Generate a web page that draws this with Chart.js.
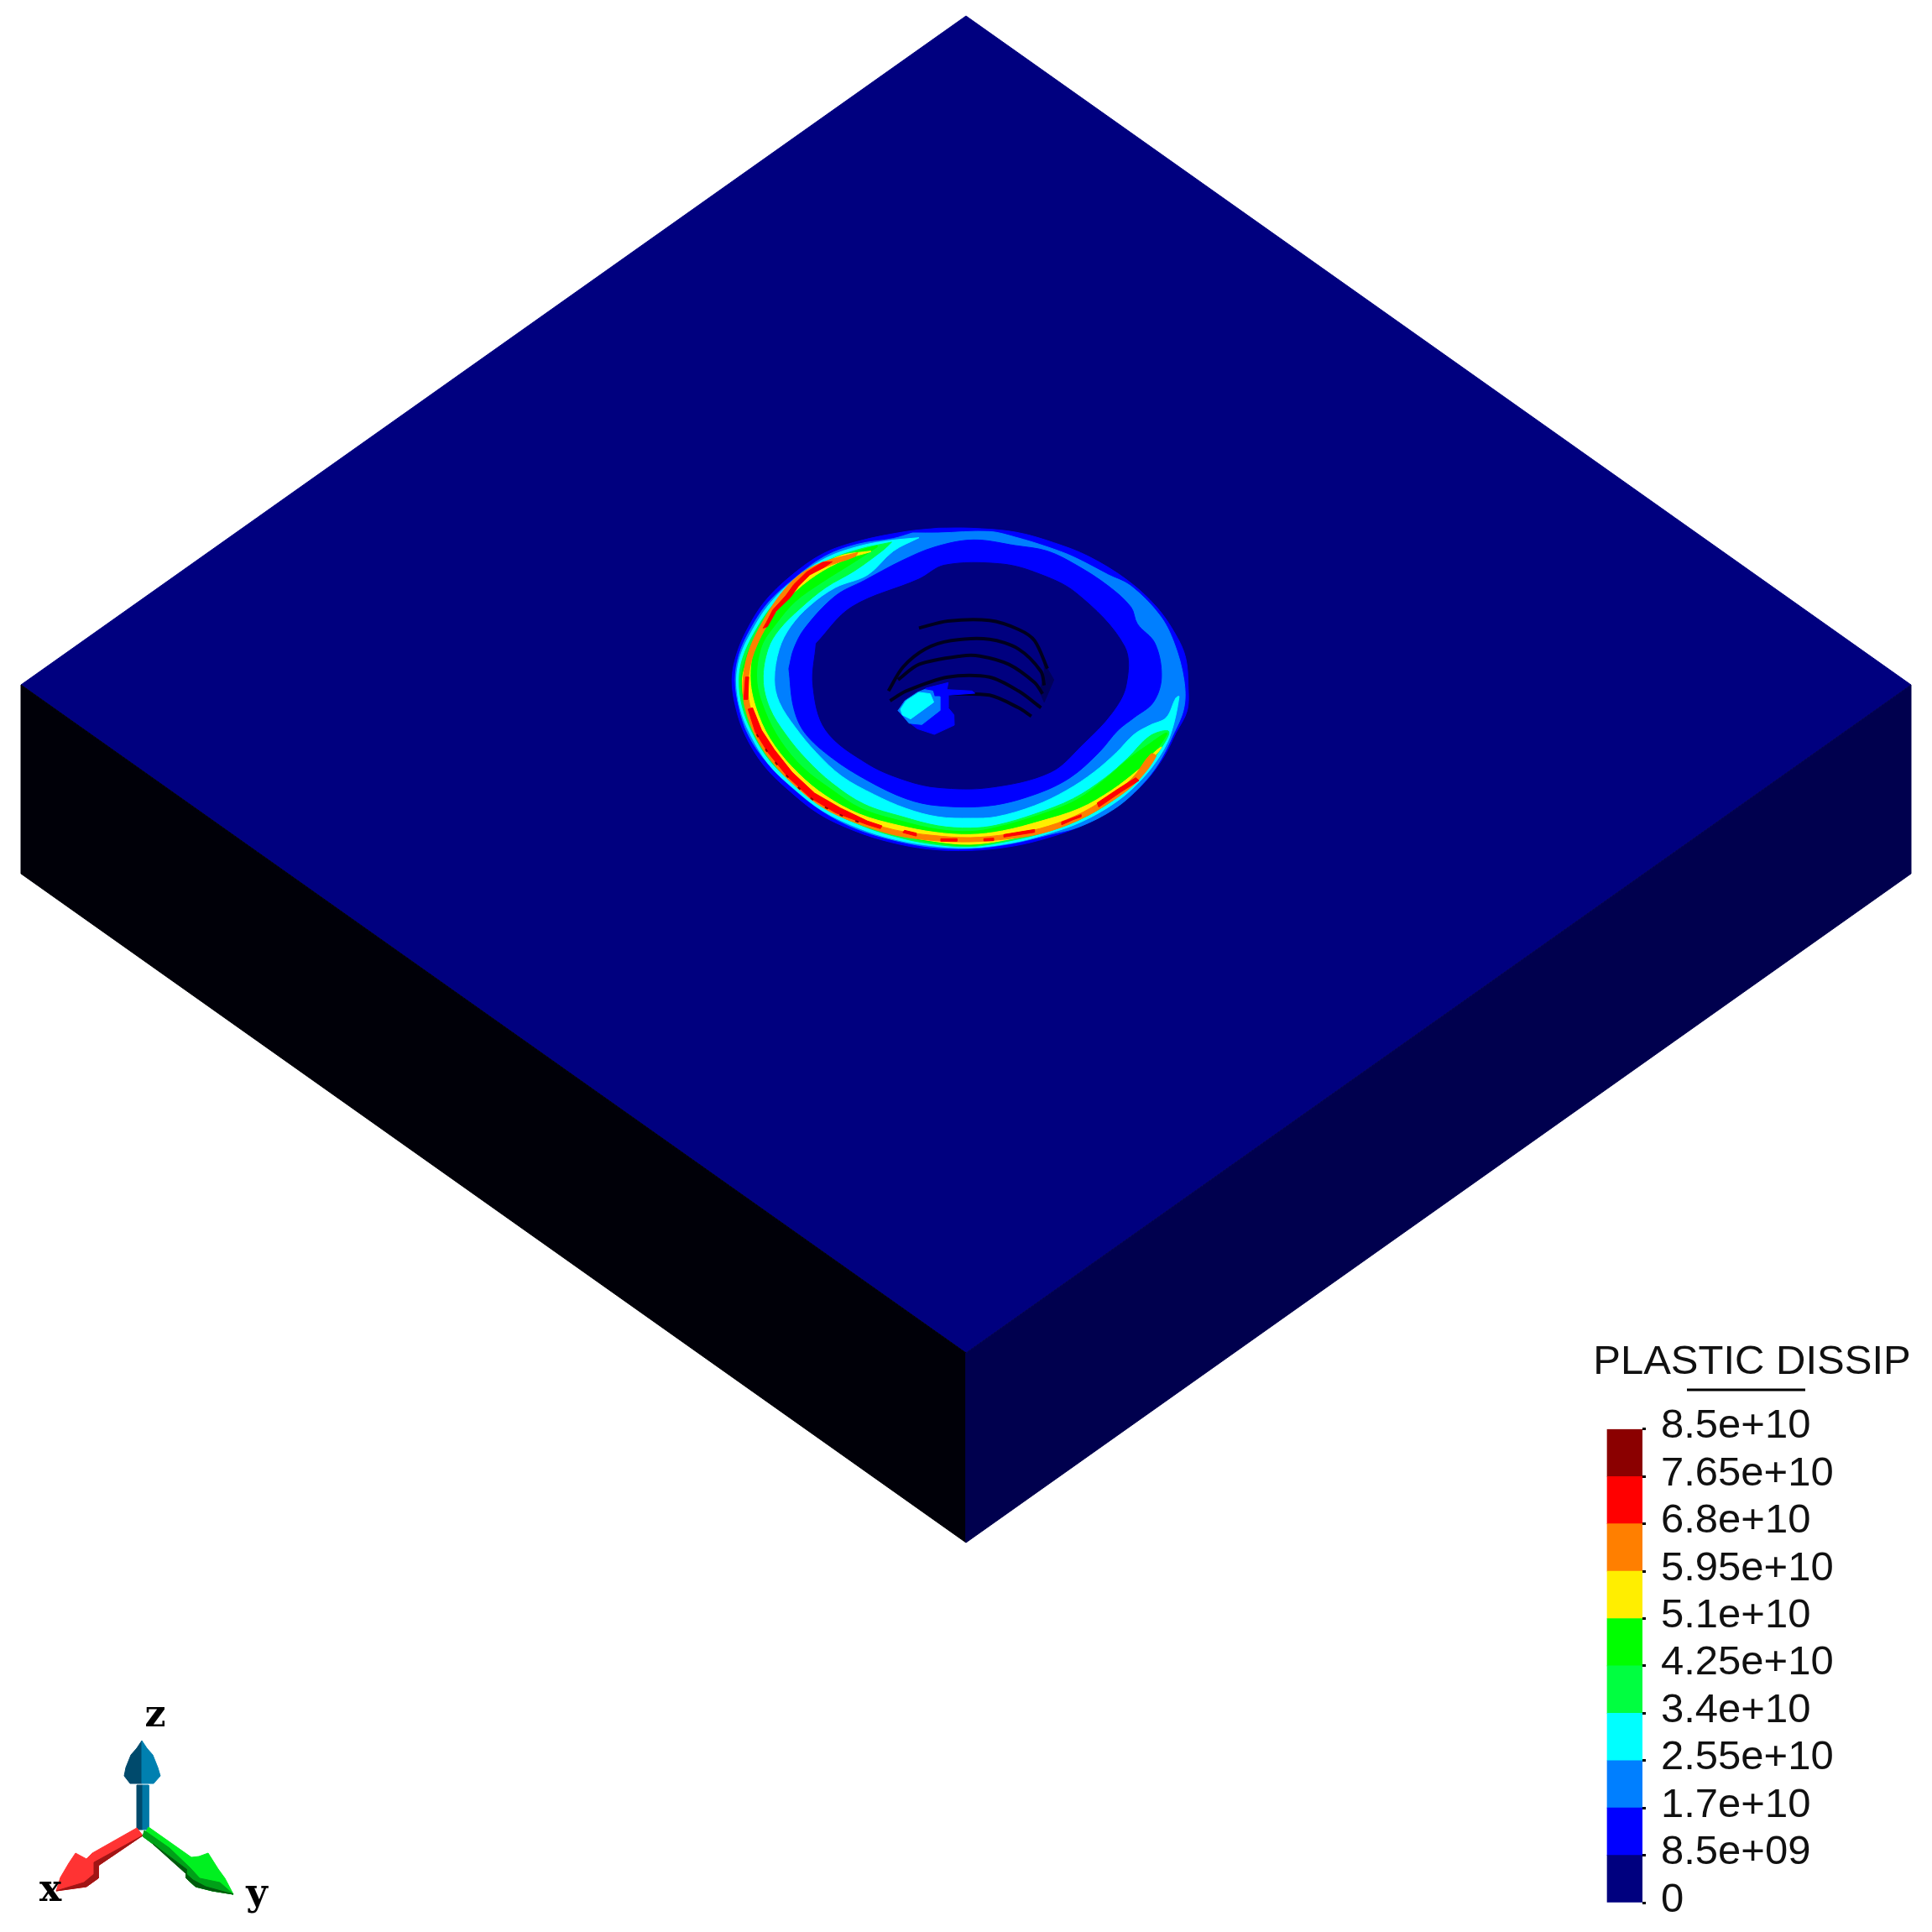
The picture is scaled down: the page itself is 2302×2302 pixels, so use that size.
<!DOCTYPE html>
<html lang="en">
<head>
<meta charset="UTF-8">
<title>PLASTIC DISSIP</title>
<script src="https://cdn.jsdelivr.net/npm/chart.js"></script>
<style>
  body { margin: 0; background: #fff; }
  canvas { position: absolute; }
</style>
</head>
<body>
<canvas id="plate" width="2302" height="2302" style="left:0;top:0"></canvas>
<canvas id="bar" width="452" height="722" style="left:1850px;top:1580px"></canvas>
<script>
// colour bar
const levels = [0, 8.5e9, 1.7e10, 2.55e10, 3.4e10, 4.25e10, 5.1e10, 5.95e10, 6.8e10, 7.65e10, 8.5e10];
const levelLabels = ['0', '8.5e+09', '1.7e+10', '2.55e+10', '3.4e+10', '4.25e+10', '5.1e+10', '5.95e+10', '6.8e+10', '7.65e+10', '8.5e+10'];
const bandColors = ['#00007f', '#0000ff', '#007fff', '#00ffff', '#00ff40', '#00ff00', '#ffee00', '#ff7f00', '#ff0000', '#8b0000'];

// plate outline, page units
const topFace = [[1151, 19], [2277, 816], [1151, 1612], [25, 816]];
const leftFace = [[25, 816], [1151, 1612], [1151, 1838], [25, 1041]];
const rightFace = [[2277, 816], [1151, 1612], [1151, 1838], [2277, 1041]];

// contour loops, in crop units of the dent region
const ringBlue = [[700,58],[800,58],[940,72],[1060,110],[1170,160],[1290,245],[1380,340],[1440,440],[1470,520],[1478,620],[1475,710],[1440,790],[1400,880],[1340,970],[1260,1050],[1150,1120],[1040,1165],[930,1195],[800,1210],[670,1205],[550,1180],[440,1140],[330,1080],[240,1000],[160,910],[100,800],[70,700],[58,600],[72,510],[105,420],[160,320],[240,230],[340,150],[450,105],[600,70]];
const ringLight = [[620,75],[700,75],[860,70],[940,90],[1040,125],[1120,160],[1230,225],[1300,265],[1390,370],[1435,470],[1465,600],[1465,700],[1430,800],[1385,900],[1330,980],[1250,1060],[1140,1125],[1040,1155],[930,1185],[800,1203],[670,1197],[550,1170],[440,1130],[340,1070],[250,990],[170,900],[110,800],[80,700],[68,600],[80,510],[115,420],[170,325],[250,240],[345,160],[450,115],[560,95]];
const crescentCyan = [[640,92],[550,102],[455,122],[350,165],[250,243],[172,333],[118,430],[84,515],[72,600],[83,700],[115,795],[173,903],[252,990],[340,1068],[448,1128],[556,1168],[672,1192],[800,1200],[928,1183],[1036,1152],[1145,1108],[1252,1038],[1330,960],[1390,872],[1425,790],[1450,660],[1440,665],[1410,735],[1360,762],[1310,795],[1255,860],[1185,930],[1100,995],[1000,1050],[880,1090],[800,1095],[700,1090],[600,1060],[500,1010],[400,945],[320,860],[255,770],[205,680],[190,600],[205,490],[240,410],[300,335],[380,270],[480,225],[560,140]];
const crescentMint = [[555,108],[458,132],[358,173],[258,250],[180,340],[126,435],[92,520],[80,600],[90,695],[122,790],[180,895],[260,980],[348,1058],[455,1118],[560,1158],[675,1186],[800,1196],[925,1175],[1033,1145],[1140,1100],[1245,1030],[1322,952],[1382,865],[1418,785],[1360,800],[1290,880],[1220,950],[1120,1025],[1000,1080],[880,1120],[800,1130],[700,1122],[590,1090],[470,1045],[370,970],[290,885],[225,795],[175,700],[155,600],[170,490],[205,420],[270,345],[350,270],[440,210],[530,135]];
const crescentGreen = [[510,120],[450,140],[365,180],[265,258],[188,345],[133,440],[100,525],[86,600],[97,690],[128,785],[187,888],[266,972],[355,1050],[460,1110],[565,1150],[678,1180],[800,1193],[922,1168],[1030,1138],[1135,1092],[1238,1022],[1315,945],[1375,858],[1412,790],[1350,835],[1290,885],[1225,950],[1130,1030],[1010,1085],[880,1128],[800,1142],[700,1135],[585,1105],[460,1060],[365,990],[280,915],[210,820],[160,710],[135,600],[150,480],[195,400],[255,320],[340,250],[430,185],[510,125]];
const crescentYellow = [[490,140],[400,155],[330,195],[270,240],[195,340],[140,440],[106,530],[90,600],[100,690],[135,780],[195,880],[272,965],[360,1048],[465,1110],[570,1150],[680,1176],[800,1188],[920,1170],[1026,1138],[1130,1092],[1232,1022],[1308,945],[1365,868],[1395,840],[1380,865],[1320,925],[1240,995],[1140,1060],[1020,1105],[900,1140],[800,1153],[690,1145],[575,1120],[455,1080],[350,1015],[265,935],[190,835],[140,725],[115,600],[130,475],[175,385],[240,300],[320,225],[410,170],[490,142]];
const crescentOrange = [[450,145],[335,182],[262,230],[202,305],[152,396],[117,477],[97,558],[92,650],[107,733],[142,825],[192,906],[262,987],[343,1058],[436,1108],[558,1153],[680,1174],[800,1179],[920,1168],[1024,1148],[1134,1103],[1236,1037],[1317,966],[1378,874],[1362,865],[1303,954],[1224,1023],[1126,1087],[1016,1132],[918,1152],[800,1164],[682,1156],[562,1136],[444,1092],[357,1042],[278,973],[208,894],[158,815],[123,727],[108,650],[113,560],[133,483],[168,404],[218,315],[278,240],[345,198],[440,160]];
const redPieces = [
  [[370,178],[340,180],[290,215],[250,260],[225,300],[185,350],[165,395],[155,415],[168,410],[195,355],[240,305],[265,265],[300,225],[345,198]],
  [[100,590],[95,670],[107,670],[110,590]],
  [[108,705],[130,785],[170,860],[230,945],[300,1020],[380,1075],[480,1118],[520,1132],[525,1122],[480,1105],[395,1058],[315,1005],[245,930],[190,850],[150,780],[122,700]],
  [[590,1146],[630,1158],[632,1148],[595,1138]],
  [[708,1168],[758,1168],[758,1177],[708,1177]],
  [[842,1168],[872,1166],[872,1175],[842,1176]],
  [[905,1162],[1000,1145],[1000,1135],[905,1153]],
  [[1085,1118],[1120,1100],[1145,1090],[1145,1082],[1085,1108]],
  [[1200,1055],[1270,1000],[1325,960],[1315,950],[1260,990],[1195,1040]]
];
const darkRidge = [[135,795],[170,860],[230,945],[300,1020],[380,1075],[460,1112]];
const innerBlue = [[235,560],[250,490],[285,415],[380,300],[470,245],[585,175],[690,125],[810,100],[940,120],[1040,140],[1130,190],[1230,265],[1300,340],[1320,400],[1375,470],[1395,590],[1370,680],[1310,735],[1260,780],[1200,860],[1110,950],[1000,1010],[860,1050],[700,1050],[600,1025],[480,960],[370,880],[285,790],[250,700]];
const innerNavy = [[320,470],[430,340],[640,240],[720,190],[890,185],[1000,215],[1130,290],[1280,480],[1285,620],[1240,720],[1150,830],[1050,930],[860,985],[700,985],[600,960],[480,900],[350,780],[310,620]];

// thread rings in the hole
const holeArcs = [
  [[640,415],[730,390],[860,388],[950,420],[1000,460],[1040,560]],
  [[545,640],[590,555],[660,490],[740,460],[860,455],[950,490],[1020,570],[1030,620]],
  [[575,600],[640,545],[770,515],[830,515],[920,545],[1000,610],[1025,650]],
  [[550,675],[600,640],[730,590],[860,590],[950,640],[1020,700]],
  [[730,650],[860,655],[950,700],[990,730]]
];
const holeShade = [[1030,540],[1060,600],[1030,680],[1015,640],[1030,590]];
const spotBlue = [[662,630],[714,615],[731,610],[727,635],[805,640],[814,648],[731,655],[731,700],[749,725],[750,762],[688,795],[635,775],[601,745],[575,710]];
const spotLight = [[657,635],[683,640],[688,660],[705,660],[705,710],[649,760],[609,755],[588,725],[575,710],[596,675],[635,645]];
const spotCyan = [[640,645],[675,650],[686,680],[614,740],[588,725],[583,705],[600,675]];

// axis triad, page units
const shaftZLeft = [[163,2127],[170,2127],[170,2180],[163,2180]];
const shaftZRight = [[170,2127],[177,2127],[177,2180],[170,2180]];
const headZDark = [[169,2074],[163,2083],[156,2091],[150,2106],[148,2116],[155,2125],[169,2125]];
const headZLight = [[169,2074],[175,2083],[182,2091],[188,2106],[191,2116],[183,2125],[169,2125]];
const arrowX = [[163,2178],[170,2187],[117,2223],[117,2238],[103,2248],[67,2253],[72,2237],[82,2220],[90,2208],[103,2215],[110,2208]];
const arrowXShade = [[170,2187],[117,2223],[117,2238],[103,2248],[67,2253],[100,2243],[112,2233],[112,2219]];
const arrowY = [[177,2177],[228,2213],[237,2212],[248,2208],[260,2227],[268,2238],[278,2257],[253,2253],[233,2248],[222,2238],[222,2227],[197,2208],[170,2188]];
const arrowYMid = [[170,2188],[197,2208],[222,2227],[222,2238],[233,2248],[253,2253],[278,2257],[262,2243],[238,2238],[227,2226],[202,2202],[172,2181]];
const arrowYDark = [[182,2197],[222,2227],[222,2238],[233,2248],[253,2253],[278,2257],[245,2248],[230,2240]];
const triadLetters = [['z', 185, 2045], ['x', 60, 2253], ['y', 306, 2258]];
const barRule = [[2010, 1656], [2151, 1656]];

const toXY = pts => pts.map(p => ({x: p[0], y: p[1]}));

function shape(pts, color, crop, tension) {
  const closed = pts.concat([pts[0]]);
  return {
    data: toXY(closed), showLine: true, fill: 'shape', tension: tension || 0, pointRadius: 0,
    backgroundColor: color, borderColor: color, borderWidth: 1,
    xAxisID: crop ? 'cx' : 'x', yAxisID: crop ? 'cy' : 'y'
  };
}
function stroke(pts, color, width, crop, dash) {
  return {
    data: toXY(pts), showLine: true, fill: false, tension: 0.3, pointRadius: 0,
    borderColor: color, borderWidth: width, borderDash: dash || [],
    xAxisID: crop ? 'cx' : 'x', yAxisID: crop ? 'cy' : 'y'
  };
}

const soft = 0.35;
const layers = [
  shape(topFace, '#00007f'),
  shape(leftFace, '#000008'),
  shape(rightFace, '#00004e'),
  shape(ringBlue, '#0000ff', true, soft),
  shape(ringLight, '#007fff', true, soft),
  shape(crescentCyan, '#00ffff', true, soft),
  shape(crescentMint, '#00ff40', true, soft),
  shape(crescentGreen, '#00ff00', true, soft),
  shape(crescentYellow, '#ffee00', true, soft),
  shape(crescentOrange, '#ff7f00', true, soft)
];
redPieces.forEach(p => layers.push(shape(p, '#ff0000', true)));
layers.push(stroke(darkRidge, '#8b0000', 2, true, [4, 16]));
layers.push(shape(innerBlue, '#0000ff', true, soft));
layers.push(shape(innerNavy, '#00007f', true, soft));
layers.push(shape(holeShade, '#00005a', true));
holeArcs.forEach(a => layers.push(stroke(a, '#00001e', 4, true)));
layers.push(shape(spotBlue, '#0000ff', true));
layers.push(shape(spotLight, '#007fff', true));
layers.push(shape(spotCyan, '#00ffff', true));
layers.push(shape(shaftZLeft, '#004a6c'));
layers.push(shape(shaftZRight, '#0078a6'));
layers.push(shape(headZDark, '#004a6c'));
layers.push(shape(headZLight, '#0080b0'));
layers.push(shape(arrowX, '#ff3333'));
layers.push(shape(arrowXShade, '#a01515'));
layers.push(shape(arrowY, '#00f020'));
layers.push(shape(arrowYMid, '#00a018'));
layers.push(shape(arrowYDark, '#005a0c'));
layers.push(stroke(barRule, '#000000', 3));
// the library paints dataset 0 last, so give the first layer the highest order
layers.forEach((d, i) => { d.order = layers.length - i; });

const triadPlugin = {
  id: 'triadPlugin',
  afterDatasetsDraw(chart) {
    const {ctx, scales} = chart;
    ctx.save();
    ctx.font = 'bold 44px "DejaVu Serif"';
    ctx.fillStyle = '#000';
    ctx.textAlign = 'center';
    ctx.textBaseline = 'middle';
    triadLetters.forEach(l => ctx.fillText(l[0], scales.x.getPixelForValue(l[1]), scales.y.getPixelForValue(l[2]) + 1));
    ctx.restore();
  }
};

const hidden = (min, max, reverse) => ({type: 'linear', display: false, min, max, reverse: !!reverse});

new Chart(document.getElementById('plate'), {
  type: 'scatter',
  data: {datasets: layers},
  options: {
    responsive: false,
    animation: false,
    layout: {padding: 0},
    plugins: {legend: {display: false}, tooltip: {enabled: false}},
    scales: {
      x: hidden(0, 2302),
      y: hidden(0, 2302, true),
      cx: hidden(-2221, 3794),
      cy: hidden(-1830, 5076, true)
    }
  },
  plugins: [triadPlugin]
});

// first slot stays empty so the title has room to hang left of the bar
new Chart(document.getElementById('bar'), {
  type: 'bar',
  data: {
    labels: ['', ''],
    datasets: bandColors.map((c, i) => ({
      data: [null, [levels[i], levels[i + 1]]],
      backgroundColor: c, borderWidth: 0, grouped: false,
      barPercentage: 1, categoryPercentage: 1
    }))
  },
  options: {
    responsive: false,
    animation: false,
    layout: {padding: {left: 23, right: 0, top: 0, bottom: 35}},
    plugins: {
      legend: {display: false},
      tooltip: {enabled: false},
      title: {
        display: true, text: 'PLASTIC DISSIP', color: '#111',
        font: {family: '"Liberation Sans"', size: 49, weight: 'normal', lineHeight: 1.2},
        padding: {top: 14, bottom: 50}
      }
    },
    scales: {
      x: {display: false},
      y: {
        position: 'right', min: 0, max: 8.5e10,
        border: {display: false},
        grid: {drawOnChartArea: false, drawTicks: true, tickLength: 4, tickColor: '#000', tickWidth: 3},
        afterBuildTicks: s => { s.ticks = levels.map(v => ({value: v})); },
        afterFit: s => { s.width = 345; },
        ticks: {
          autoSkip: false, padding: 18, color: '#111',
          font: {family: '"Liberation Sans"', size: 49, lineHeight: 0.12},
          // empty second line lifts the label a little above its tick
          callback: (v, i) => [levelLabels[i], '']
        }
      }
    }
  }
});
</script>
</body>
</html>
